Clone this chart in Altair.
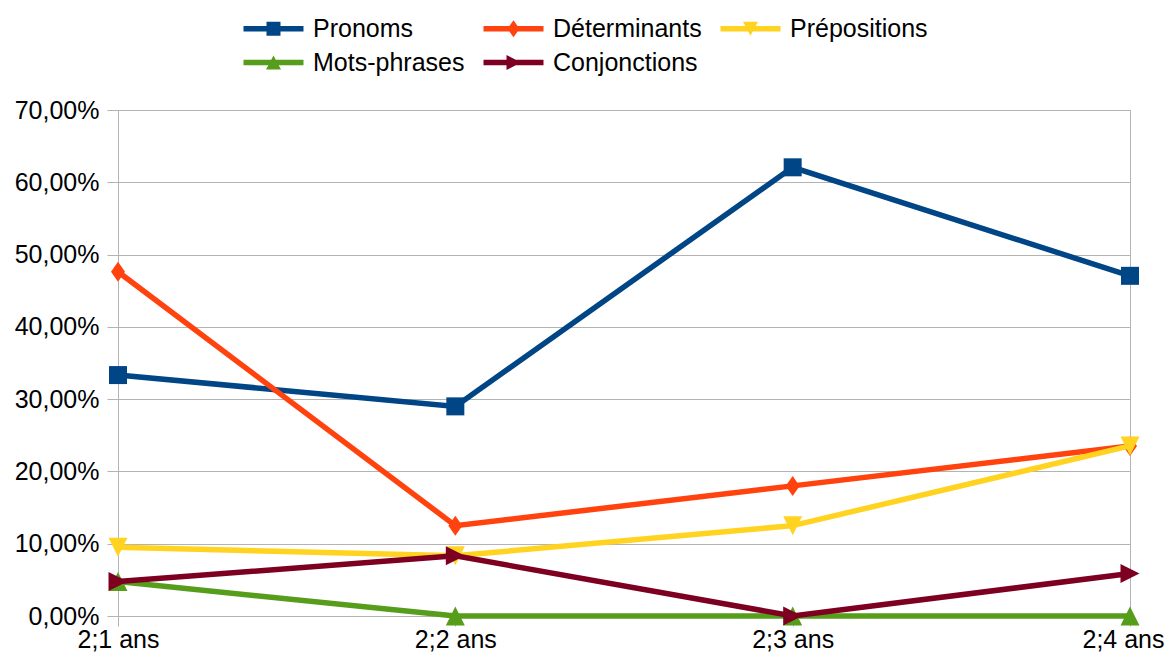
import altair as alt
import pandas as pd

categories = ["2;1 ans", "2;2 ans", "2;3 ans", "2;4 ans"]
series_names = ["Pronoms", "Déterminants", "Prépositions", "Mots-phrases", "Conjonctions"]
pronoms = [33.33, 29.0, 62.07, 47.06]
determinants = [47.62, 12.5, 18.0, 23.53]
prepositions = [9.52, 8.33, 12.5, 23.53]
mots_phrases = [4.76, 0.0, 0.0, 0.0]
conjonctions = [4.76, 8.33, 0.0, 5.88]
y_ticks = [0, 10, 20, 30, 40, 50, 60, 70]

colors = ["#004586", "#ff420e", "#ffd320", "#579d1c", "#7e0021"]

# marker shapes on the plot (unit box, scaled by size)
marker_paths = [
    "M-0.9,-0.9H0.9V0.9H-0.9Z",
    "M0,-1L0.7,0L0,1L-0.7,0Z",
    "M-0.95,-0.95H0.95L0,0.95Z",
    "M0,-0.95L0.95,0.95H-0.95Z",
    "M-0.95,-0.95L0.95,0L-0.95,0.95Z",
]
# legend symbols: a line segment with the marker in its middle
LINE = "M-1,-0.27H5V0.27H-1Z"
legend_paths = [
    LINE + "M1.3,-0.7H2.7V0.7H1.3Z",
    LINE + "M2,-0.85L2.6,0L2,0.85L1.4,0Z",
    LINE + "M1.25,-0.7H2.75L2,0.7Z",
    LINE + "M2,-0.7L2.75,0.7H1.25Z",
    LINE + "M1.3,-0.75L2.75,0L1.3,0.75Z",
]

rows = []
for name, vals in zip(series_names, [pronoms, determinants, prepositions, mots_phrases, conjonctions]):
    for c, v in zip(categories, vals):
        rows.append({"Age": c, "Serie": name, "Valeur": v})
df = pd.DataFrame(rows)

FONT = "Liberation Sans"
GRID = "#b3b3b3"

x_enc = alt.X(
    "Age:N",
    sort=categories,
    scale=alt.Scale(type="point", domain=categories, padding=0),
    axis=alt.Axis(title=None, labelAngle=0, grid=False, domain=False, ticks=True,
                  tickSize=10, tickColor=GRID, labelPadding=1, labelFontSize=25,
                  labelColor="#000000", labelFont=FONT,
                  labelOffset={"condition": {"test": "datum.value === '2;4 ans'", "value": -7}, "value": 0}),
)
y_enc = alt.Y(
    "Valeur:Q",
    scale=alt.Scale(domain=[0, 70], nice=False, zero=True),
    axis=alt.Axis(title=None, values=y_ticks, grid=True, gridColor=GRID, gridWidth=1,
                  domain=False, tickSize=11, tickColor=GRID, labelPadding=8,
                  labelFontSize=25, labelColor="#000000", labelFont=FONT,
                  labelExpr="replace(format(datum.value, '.2f'), '.', ',') + '%'"),
)

base = alt.Chart(df)

layers = []
for name, path, col in zip(series_names, marker_paths, colors):
    sub = base.transform_filter(alt.datum.Serie == name)
    layers.append(sub.mark_line(strokeWidth=5.5, color=col).encode(x=x_enc, y=y_enc))
    layers.append(
        sub.mark_point(shape=path, size=400, filled=True, opacity=1, color=col, strokeWidth=0)
        .encode(x=x_enc, y=y_enc)
    )

leg = alt.Legend(
    title=None, orient="none", legendX=123, legendY=-94, columns=3, direction="horizontal",
    labelFontSize=25, labelFont=FONT, labelColor="#000000", labelLimit=400,
    symbolSize=400, symbolStrokeWidth=0, symbolOpacity=1, labelOffset=47,
    rowPadding=8, columnPadding=16,
)
legend_layer = base.mark_point(filled=True, opacity=0, size=400).encode(
    x=x_enc, y=y_enc,
    color=alt.Color("Serie:N", scale=alt.Scale(domain=series_names, range=colors), legend=leg),
    shape=alt.Shape("Serie:N", scale=alt.Scale(domain=series_names, range=legend_paths), legend=leg),
)

chart = alt.layer(*layers, legend_layer).properties(
    width=1012, height=506,
    autosize=alt.AutoSizeParams(type="none"),
    padding={"left": 110, "top": 102, "right": 36, "bottom": 36},
).configure(font=FONT).configure_view(stroke=GRID, strokeWidth=1)

chart.save("out.html", embed_options={"renderer": "svg", "actions": False})
